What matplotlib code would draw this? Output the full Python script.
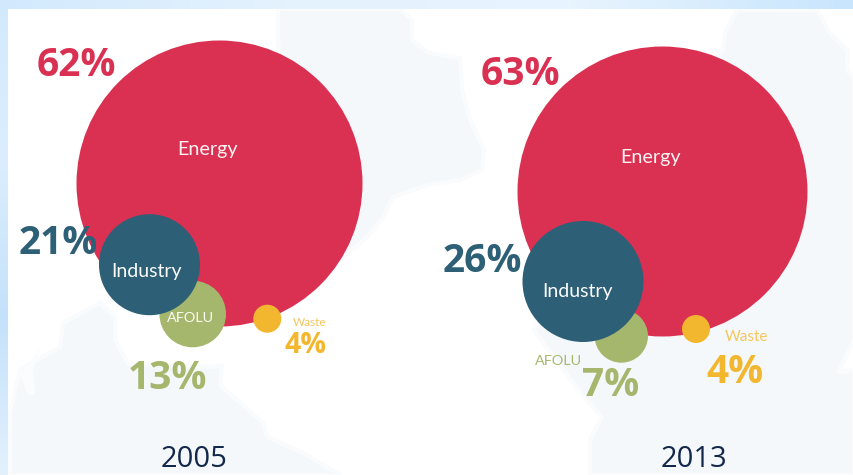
import matplotlib
matplotlib.use('Agg')
import matplotlib.pyplot as plt
from matplotlib.patches import Circle, Polygon
from matplotlib.colors import LinearSegmentedColormap
import numpy as np

plt.rcParams['font.family'] = ['Open Sans', 'DejaVu Sans']

years = ['2005', '2013']
sectors = ['Energy', 'Industry', 'AFOLU', 'Waste']
shares_2005 = [62, 21, 13, 4]
shares_2013 = [63, 26, 7, 4]

colors = {'Energy': '#da3153', 'Industry': '#2d5f76', 'AFOLU': '#a5b76d', 'Waste': '#f3b72f'}
label_colors = {'Energy': '#fdf3f3', 'Industry': '#fbfbfb', 'AFOLU': '#fbfbf5', 'Waste': '#f5c65c'}

# bubble layout in pixels: x, y, radius
bubbles_2005 = [(219.5, 183.5, 143), (149.5, 264.7, 50.5), (192.7, 314, 33.3), (267.3, 318.7, 14)]
bubbles_2013 = [(662.5, 191.5, 145), (583, 281.5, 60.5), (621.3, 336, 26.7), (696, 329, 14)]

# label anchors: x centre, baseline y, font size
names_2005 = [(208, 155, 14.2), (147, 277, 14), (191, 322.5, 10.4), (310, 326, 8.5)]
names_2013 = [(651, 163, 14.2), (578, 297, 14), (559, 365, 10.4), (746.5, 341, 11)]
pcts_2005 = [(76, 76, 28), (58, 254, 28), (167, 389, 28), (306, 353, 20.5)]
pcts_2013 = [(520, 85, 28), (482.5, 272, 28), (611, 396, 28), (735, 383, 28)]

map_shapes = [
    [(278, 9), (400, 9), (412, 20), (412, 40), (427, 52), (445, 56), (460, 58), (462, 90), (470, 120),
     (484, 150), (482, 170), (460, 180), (427, 185), (393, 197), (383, 217), (367, 237), (340, 260), (280, 200)],
    [(63, 323), (100, 303), (115, 317), (115, 340), (128, 364), (213, 367), (222, 365), (220, 385),
     (263, 423), (267, 437), (303, 453), (340, 475), (10, 475), (10, 413), (20, 370), (60, 347)],
    [(737, 10), (817, 10), (830, 33), (847, 50), (847, 70), (854, 78), (854, 340), (838, 372), (854, 370),
     (854, 475), (590, 475), (590, 440), (602, 417), (584, 397), (534, 330), (600, 200), (723, 50), (725, 33)],
]
streak = [(41, 347), (20, 375), (28, 395), (35, 395), (33, 370)]

fig = plt.figure(figsize=(8.54, 4.75), dpi=100)
ax = fig.add_axes([0, 0, 1, 1])
ax.axis('off')

# pale blue frame along the top and left, kept above the map shapes
frame = LinearSegmentedColormap.from_list('frame', ['#d2e9fd', '#e4f2fe', '#e8f4fe', '#c8e5fd'])
ax.imshow(np.linspace(0, 1, 256).reshape(1, -1), cmap=frame, extent=[0, 854, 9, 0], aspect='auto', zorder=1.5)
side = LinearSegmentedColormap.from_list('side', ['#d2e9fd', '#dceefd', '#c4e1fb', '#e3f1fd'])
ax.imshow(np.linspace(0, 1, 256).reshape(-1, 1), cmap=side, extent=[0, 8, 475, 0], aspect='auto', zorder=1.5)
ax.set_xlim(0, 854)
ax.set_ylim(475, 0)

for shape in map_shapes:
    ax.add_patch(Polygon(shape, closed=True, facecolor='#f5f8fb', edgecolor='#fafbfd', linewidth=3,
                         joinstyle='round', zorder=1))
ax.add_patch(Polygon(streak, closed=True, facecolor='#fbfcfd', edgecolor='none', zorder=1))

# smaller sectors sit on top of the energy bubble, industry above AFOLU
draw_order = {'Energy': 2, 'Waste': 3, 'AFOLU': 4, 'Industry': 5}

panels = [(shares_2005, bubbles_2005, names_2005, pcts_2005, years[0], 194),
          (shares_2013, bubbles_2013, names_2013, pcts_2013, years[1], 694)]
for shares, bubbles, names, pcts, year, year_x in panels:
    for i in range(len(sectors)):
        sector = sectors[i]
        x, y, r = bubbles[i]
        ax.add_patch(Circle((x, y), r, facecolor=colors[sector], edgecolor='none', zorder=draw_order[sector]))
        nx, ny, nsize = names[i]
        name_color = label_colors[sector]
        if sector == 'AFOLU' and year == '2013':
            name_color = colors['AFOLU']
        ax.text(nx, ny, sector, color=name_color, fontsize=nsize, family='Lato', ha='center', va='baseline', zorder=7)
        px, py, psize = pcts[i]
        ax.text(px, py, str(shares[i]) + '%', color=colors[sector], fontsize=psize, fontweight='bold',
                ha='center', va='baseline', zorder=6)
    ax.text(year_x, 467, year, color='#14284b', fontsize=21, ha='center', va='baseline', zorder=7)

plt.savefig('out.png', dpi=100)
